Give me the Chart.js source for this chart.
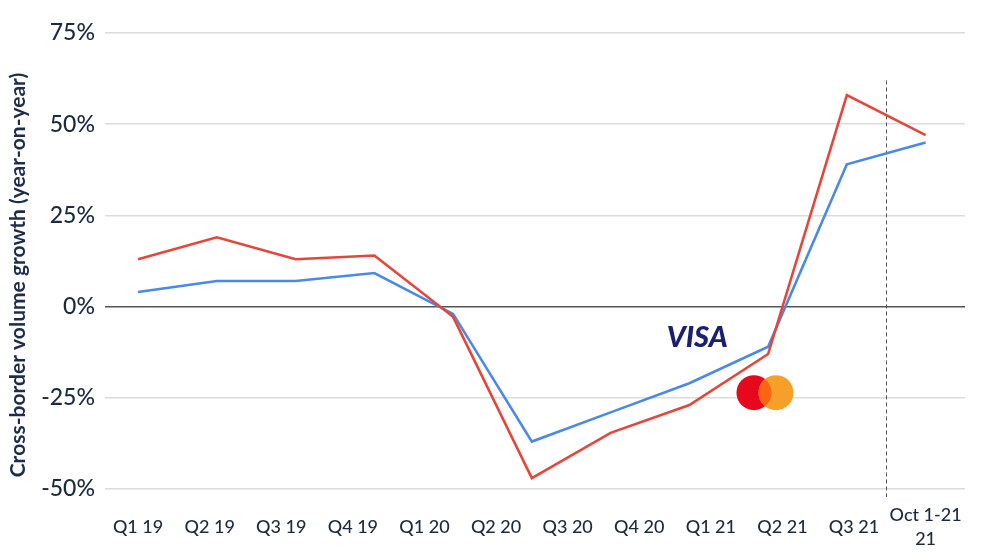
<!DOCTYPE html>
<html>
<head>
<meta charset="utf-8">
<script src="https://cdn.jsdelivr.net/npm/chart.js@4/dist/chart.umd.min.js"></script>
<style>
    html, body { margin: 0; padding: 0; background: #ffffff; }
    canvas { display: block; }
</style>
</head>
<body>
<canvas id="growthChart" width="999" height="555"></canvas>
<script>
// Quarter labels on the x axis (12 labels, the last one on two lines)
const xLabels = ['Q1 19', 'Q2 19', 'Q3 19', 'Q4 19', 'Q1 20', 'Q2 20', 'Q3 20',
                 'Q4 20', 'Q1 21', 'Q2 21', 'Q3 21', ['Oct 1-21', '21']];

// Cross-border volume growth, % year-on-year (11 points each)
const visaGrowth       = [4, 7, 7, 9.2, -2, -37, -29, -21, -11, 39, 45];
const mastercardGrowth = [13, 19, 13, 14, -2.8, -47, -34.6, -27, -13, 58, 47];

// Y axis ticks
const yTicks = [-50, -25, 0, 25, 50, 75];

// Colours
const TEXT_COLOR = '#1c2a3d';
const TITLE_COLOR = '#1d2c4a';
const VISA_LINE = '#4a89e8';
const MC_LINE = '#e4473a';
const GRID_COLOR = '#dcdcdc';
const ZERO_COLOR = '#555555';

Chart.defaults.font.family = 'Lato, "Open Sans", sans-serif';
Chart.defaults.color = TEXT_COLOR;

// Title, dashed separator and the two brand marks
const overlayPlugin = {
    id: 'overlay',
    beforeDatasetsDraw(chart) {
        const { ctx, chartArea, scales: { x, y } } = chart;
        const sx = Math.round(x.getPixelForValue(9.5)) + 0.5;
        ctx.save();
        ctx.setLineDash([4, 3]);
        ctx.strokeStyle = '#555555';
        ctx.lineWidth = 1;
        ctx.beginPath();
        ctx.moveTo(sx, y.getPixelForValue(62));
        ctx.lineTo(sx, chartArea.bottom + 8);
        ctx.stroke();
        ctx.restore();
    },
    afterDatasetsDraw(chart) {
        const { ctx, scales: { x, y } } = chart;
        ctx.save();

        // axis title
        ctx.translate(25, 275);
        ctx.rotate(-Math.PI / 2);
        ctx.font = 'bold 21px Lato, sans-serif';
        ctx.fillStyle = TITLE_COLOR;
        ctx.textAlign = 'center';
        ctx.textBaseline = 'alphabetic';
        ctx.fillText('Cross-border volume growth (year-on-year)', 0, 0);
        ctx.setTransform(1, 0, 0, 1, 0, 0);

        // VISA word mark
        ctx.font = 'italic 900 29px Lato, sans-serif';
        ctx.fillStyle = '#1a1f71';
        ctx.textAlign = 'center';
        ctx.textBaseline = 'middle';
        ctx.fillText('VISA', x.getPixelForValue(7.1), y.getPixelForValue(-8.6));

        // Mastercard circles
        const cy = y.getPixelForValue(-23.6);
        const c1 = x.getPixelForValue(7.82);
        const c2 = x.getPixelForValue(8.1);
        const r = 17.5;
        ctx.fillStyle = '#e8081e';
        ctx.beginPath(); ctx.arc(c1, cy, r, 0, Math.PI * 2); ctx.fill();
        ctx.fillStyle = '#f6a02a';
        ctx.beginPath(); ctx.arc(c2, cy, r, 0, Math.PI * 2); ctx.fill();
        ctx.save();
        ctx.beginPath(); ctx.arc(c1, cy, r, 0, Math.PI * 2); ctx.clip();
        ctx.fillStyle = '#fb6410';
        ctx.beginPath(); ctx.arc(c2, cy, r, 0, Math.PI * 2); ctx.fill();
        ctx.restore();

        ctx.restore();
    }
};

const ctx = document.getElementById('growthChart');

new Chart(ctx, {
    type: 'line',
    data: {
        datasets: [
            {
                label: 'Mastercard',
                data: mastercardGrowth.map((v, i) => ({ x: i, y: v })),
                borderColor: MC_LINE,
                borderWidth: 2.6,
                pointRadius: 0,
                tension: 0,
                fill: false
            },
            {
                label: 'Visa',
                data: visaGrowth.map((v, i) => ({ x: i, y: v })),
                borderColor: VISA_LINE,
                borderWidth: 2.6,
                pointRadius: 0,
                tension: 0,
                fill: false
            }
        ]
    },
    options: {
        responsive: false,
        animation: false,
        layout: {
            padding: { left: 0, right: 34, top: 33, bottom: 0 }
        },
        plugins: {
            legend: { display: false },
            tooltip: { enabled: false },
            title: { display: false }
        },
        scales: {
            x: {
                type: 'linear',
                min: -0.42,
                max: 10.5,
                grid: { display: false },
                border: { display: false },
                afterBuildTicks: function(scale) {
                    scale.ticks = xLabels.map((l, i) => ({ value: i * 10 / 11 }));
                },
                afterFit: function(scale) {
                    scale.height = 66;
                },
                ticks: {
                    autoSkip: false,
                    maxRotation: 0,
                    padding: 18,
                    crossAlign: 'center',
                    color: TEXT_COLOR,
                    font: { size: 18, weight: 500, lineHeight: 1.35 },
                    callback: function(value, index) {
                        return xLabels[index];
                    }
                }
            },
            y: {
                min: -50,
                max: 75,
                afterBuildTicks: function(scale) {
                    scale.ticks = yTicks.map(v => ({ value: v }));
                },
                afterFit: function(scale) {
                    scale.width = 105;
                },
                grid: {
                    drawTicks: false,
                    lineWidth: 1.5,
                    color: function(context) {
                        return context.tick && context.tick.value === 0 ? ZERO_COLOR : GRID_COLOR;
                    }
                },
                border: { display: false },
                ticks: {
                    padding: 10,
                    color: TEXT_COLOR,
                    font: { size: 23, weight: 500 },
                    callback: function(value) {
                        return value + '%';
                    }
                }
            }
        }
    },
    plugins: [overlayPlugin]
});
</script>
</body>
</html>
